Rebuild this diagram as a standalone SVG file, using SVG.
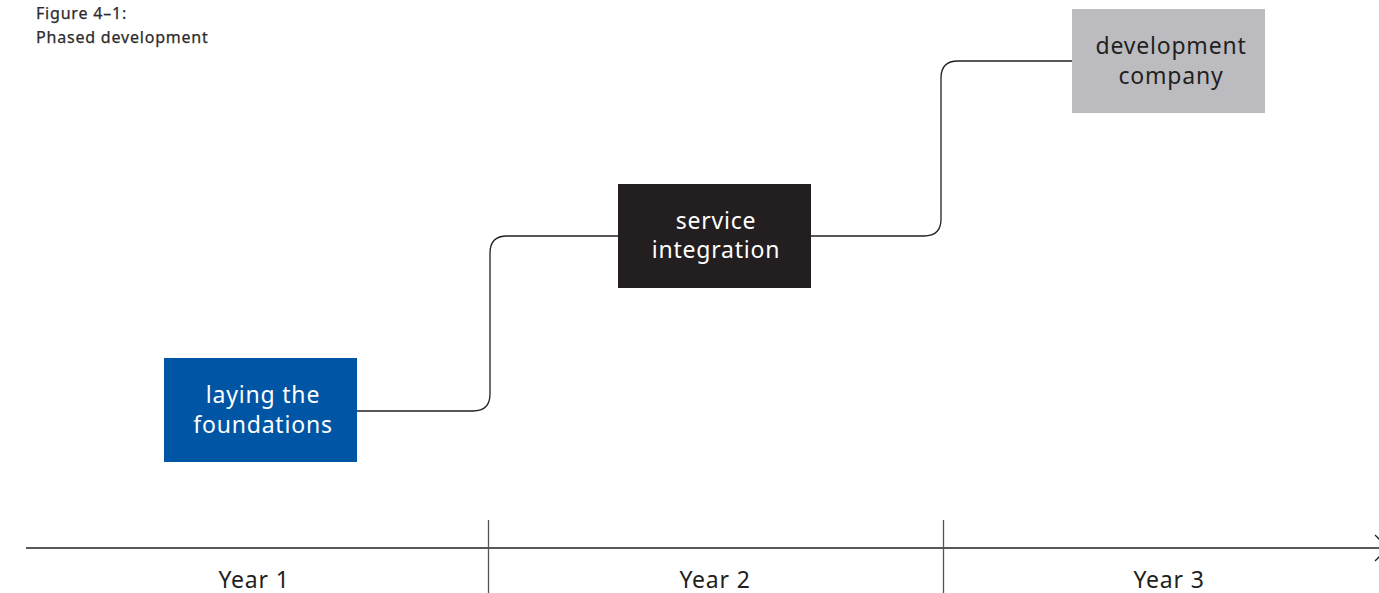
<svg xmlns="http://www.w3.org/2000/svg" width="1379" height="593" viewBox="0 0 1379 593">
  <style>
    .lbl { font-family: "Noto Sans", "Open Sans", sans-serif; font-size: 23px; letter-spacing: 0.8px; text-anchor: middle; }
    .light { fill: #ffffff; }
    .dark { fill: #231f20; }
    .title { font-family: "Noto Sans", "Open Sans", sans-serif; font-size: 16px; letter-spacing: 0.8px; fill: #2b2b2b; stroke: #2b2b2b; stroke-width: 0.25; }
    .conn { fill: none; stroke: #231f20; stroke-width: 1.3; }
    .axis { fill: none; stroke: #231f20; stroke-width: 1.3; }
    .tick { fill: none; stroke: #555555; stroke-width: 1.3; }
  </style>
  <rect width="1379" height="593" fill="#ffffff"/>

  <!-- caption -->
  <g id="caption">
    <text class="title" x="36" y="19">Figure 4–1:</text>
    <text class="title" x="36" y="43">Phased development</text>
  </g>

  <!-- step connectors between phases -->
  <g id="connectors">
    <path class="conn" d="M357 411 H473 Q490 411 490 394 V253 Q490 236 507 236 H618"/>
    <path class="conn" d="M811 236 H924 Q941 236 941 219 V78 Q941 61 958 61 H1072"/>
  </g>

  <!-- phases -->
  <g id="phase-foundations">
    <rect x="164" y="358" width="193" height="104" fill="#0055a5"/>
    <text class="lbl light" x="263" y="403">laying the</text>
    <text class="lbl light" x="263" y="433">foundations</text>
  </g>
  <g id="phase-integration">
    <rect x="618" y="184" width="193" height="104" fill="#231f20"/>
    <text class="lbl light" x="716" y="229">service</text>
    <text class="lbl light" x="716" y="258">integration</text>
  </g>
  <g id="phase-company">
    <rect x="1072" y="9" width="193" height="104" fill="#bcbcc0"/>
    <text class="lbl dark" x="1171" y="54">development</text>
    <text class="lbl dark" x="1171" y="84">company</text>
  </g>

  <!-- timeline -->
  <g id="timeline">
    <line class="axis" x1="26" y1="548" x2="1379" y2="548"/>
    <path class="axis" d="M1375 535 L1388 548 L1375 561"/>
    <line class="tick" x1="488.5" y1="520" x2="488.5" y2="593"/>
    <line class="tick" x1="943.5" y1="520" x2="943.5" y2="593"/>
    <text class="lbl dark" x="254" y="588">Year 1</text>
    <text class="lbl dark" x="715" y="588">Year 2</text>
    <text class="lbl dark" x="1169" y="588">Year 3</text>
  </g>
</svg>
